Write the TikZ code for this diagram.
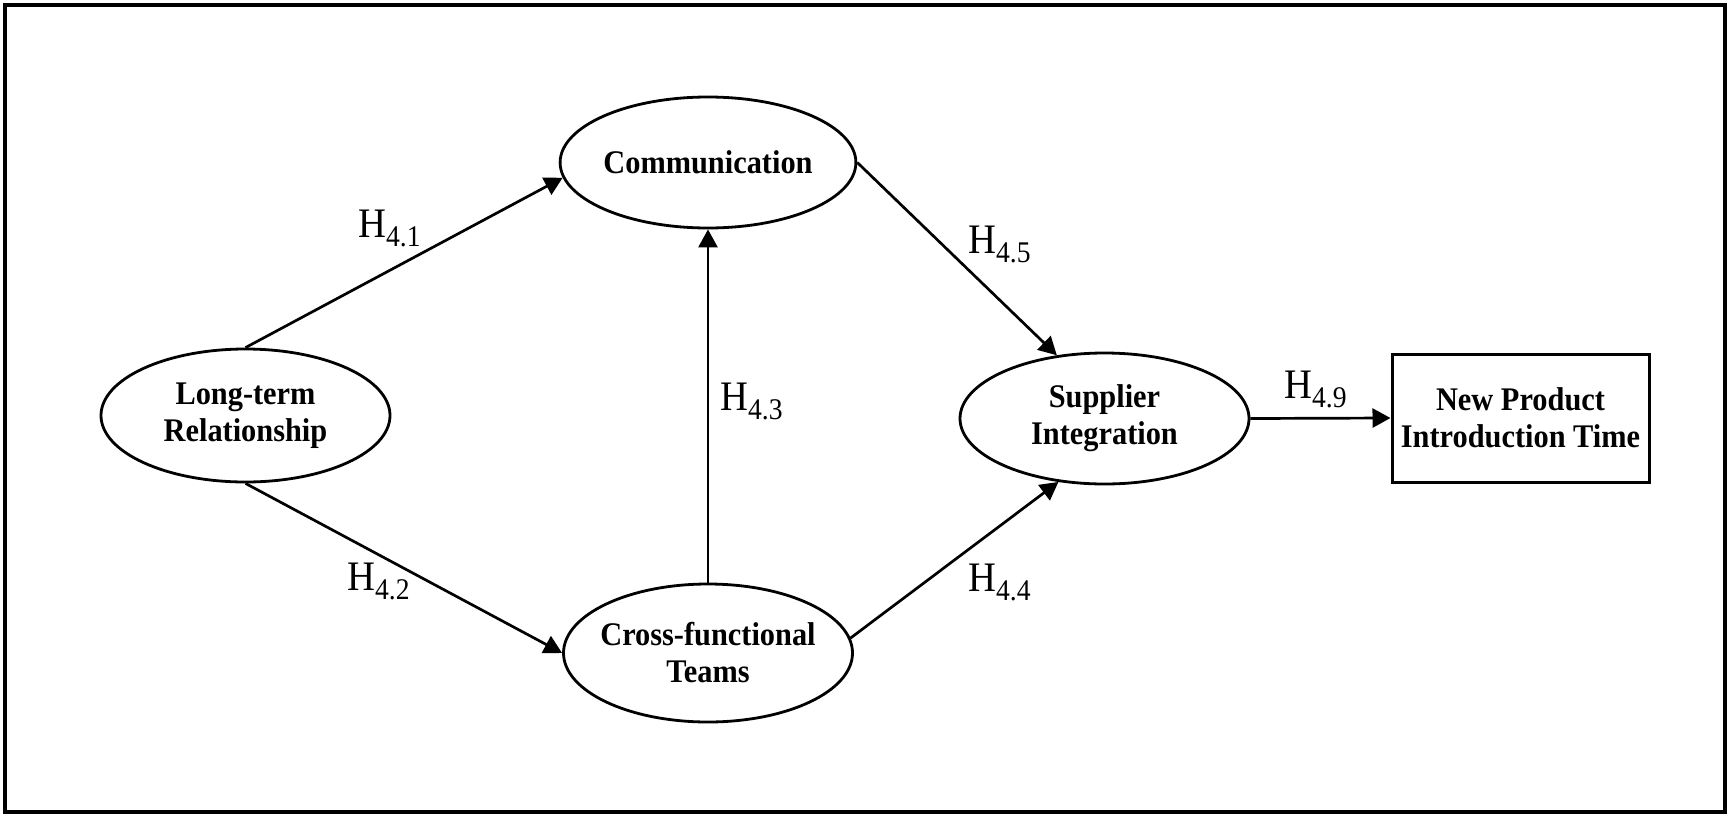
\documentclass[tikz,border=0pt]{standalone}
\usepackage{fontspec}
\setmainfont{Liberation Serif}[FakeStretch=0.92]
\usetikzlibrary{arrows.meta,shapes.geometric}
\newcommand\diagfont{\fontsize{33}{37}\selectfont\bfseries}
\newcommand\hyp[1]{H\raisebox{-9pt}{\fontsize{30}{30}\selectfont #1}}
\begin{document}
\begin{tikzpicture}[x=1pt,y=-1pt,
  oval/.style={draw, line width=2.8pt, ellipse, minimum width=289pt,
    inner sep=0pt, align=center, font=\diagfont},
  outcome/.style={draw, line width=3pt, rectangle, minimum width=257pt,
    minimum height=128pt, inner sep=0pt, align=center, font=\diagfont},
  conn/.style={line width=2.7pt, -{Triangle[length=18pt,width=19pt]}},
  hlabel/.style={anchor=base west, inner sep=0pt,
    font=\fontsize{42}{42}\selectfont}
]
% page and outer frame
\useasboundingbox (0,0) rectangle (1732,817);
\draw[line width=3.5pt] (5,5) rectangle (1725,812);

% constructs
\node[oval, minimum height=131pt] (comm) at (708,162.5) {Communication};
\node[oval, minimum height=133pt] (ltr) at (245.5,415.5) {Long-term\\Relationship};
\node[oval, minimum height=138pt] (cft) at (708,653) {\makebox[0pt]{Cross-functional}\\Teams};
\node[oval, minimum height=131pt] (sup) at (1104.5,418.5) {Supplier\\Integration};
\node[outcome] (npit) at (1520.5,418) {New Product\\Introduction Time};

% hypothesised paths
\draw[conn] (ltr.north) -- (comm.186);
\draw[conn] (ltr.south) -- (cft.west);
\draw[conn] (cft.north) -- (comm.south);
\draw[conn] (comm.east) -- (sup.127);
\draw[conn] (cft.6) -- (sup.234);
\draw[conn] (sup.east) -- (npit.west);

% path labels
\node[hlabel] (h41) at (358,237) {\hyp{4.1}};
\node[hlabel] (h42) at (347,590) {\hyp{4.2}};
\node[hlabel] (h43) at (720,410) {\hyp{4.3}};
\node[hlabel] (h45) at (968,253) {\hyp{4.5}};
\node[hlabel] (h44) at (968,591) {\hyp{4.4}};
\node[hlabel] (h49) at (1284,398) {\hyp{4.9}};
\end{tikzpicture}
\end{document}
